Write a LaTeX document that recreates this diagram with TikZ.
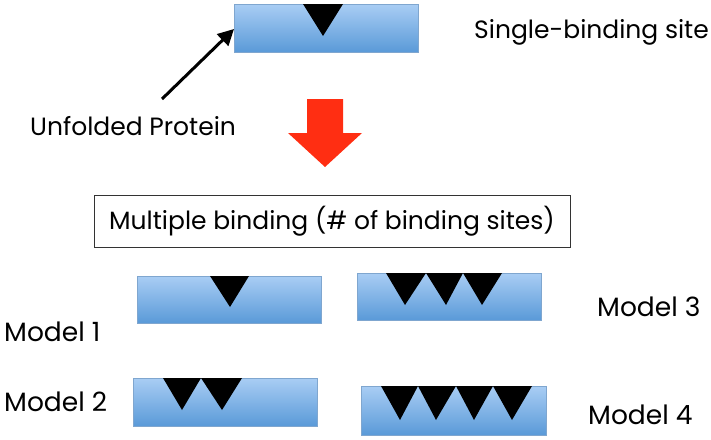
\documentclass[tikz,border=0pt]{standalone}
\usepackage{fontspec}
\setmainfont{Poppins}
\usetikzlibrary{arrows.meta}
\definecolor{boxtop}{HTML}{A9CDF4}
\definecolor{boxbot}{HTML}{5A9AD8}
\definecolor{boxedge}{HTML}{7FA6CF}
\definecolor{arrred}{HTML}{FF2E12}
\tikzset{
  protein/.style={draw=boxedge, line width=0.6pt, top color=boxtop, bottom color=boxbot},
  site/.style={fill=black},
  lbl/.style={inner sep=0pt, font=\fontsize{25}{29}\selectfont},
  mlbl/.style={inner sep=0pt, font=\fontsize{26.5}{30}\selectfont},
}
\begin{document}
\begin{tikzpicture}[x=1pt,y=-1pt]
\useasboundingbox (0,0) rectangle (711,439);
% top protein
\draw[protein] (234,4) rectangle (418,52);
\coordinate (topW) at (234,29);
\fill[site] (303,4) -- (343,4) -- (323,36) -- cycle;
\node[lbl, anchor=west] (single) at (474,32) {Single-binding site};
% unfolded protein
\node[lbl, anchor=west] (unf) at (30,126) {Unfolded Protein};
\coordinate (arrS) at (162,99);
\draw[line width=3pt, -{Triangle[length=16pt,width=16pt]}] (arrS) -- (topW);
% red arrow
\fill[arrred] (307,99) -- (343,99) -- (343,133) -- (362,133) -- (325,167) -- (288,133) -- (307,133) -- cycle;
% multiple binding box
\node[draw=black!80, line width=0.6pt, minimum width=476pt, minimum height=52pt, inner sep=0pt, font=\fontsize{25}{29}\selectfont] (multi) at (332,221) {Multiple binding (\# of binding sites)};
% model 1
\draw[protein] (137,276) rectangle (321,323);
\fill[site] (210,276) -- (249,276) -- (230,307) -- cycle;
\node[mlbl, anchor=west] (m1) at (4,332) {Model 1};
% model 3
\draw[protein] (357,273) rectangle (541,320);
\fill[site] (386,273) -- (426,273) -- (405,305) -- cycle;
\fill[site] (426,273) -- (463,273) -- (446,305) -- cycle;
\fill[site] (463,273) -- (502,273) -- (482,305) -- cycle;
\node[mlbl, anchor=west] (m3) at (597,307) {Model 3};
% model 2
\draw[protein] (133,378) rectangle (317,426);
\fill[site] (163,378) -- (201,378) -- (182,410) -- cycle;
\fill[site] (201,378) -- (242,378) -- (222,410) -- cycle;
\node[mlbl, anchor=west] (m2) at (4,402) {Model 2};
% model 4
\draw[protein] (361,386) rectangle (546,435);
\fill[site] (381,386) -- (418,386) -- (400,420) -- cycle;
\fill[site] (418,386) -- (456,386) -- (436,420) -- cycle;
\fill[site] (456,386) -- (493,386) -- (474,420) -- cycle;
\fill[site] (493,386) -- (532,386) -- (512,420) -- cycle;
\node[mlbl, anchor=west] (m4) at (588,415) {Model 4};
\end{tikzpicture}
\end{document}
